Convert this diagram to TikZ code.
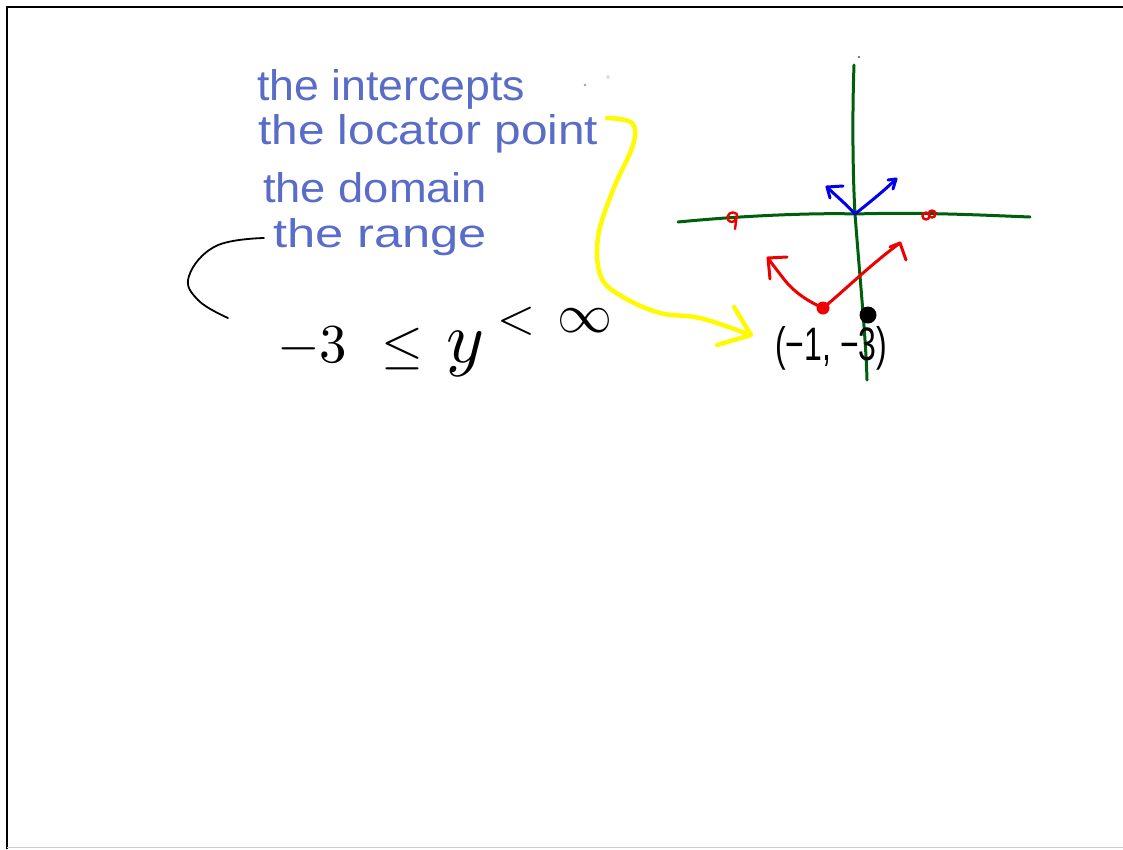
\documentclass[tikz,border=0pt]{standalone}
\usepackage{fontspec}
\setmainfont{Liberation Sans}
\usepackage{graphicx}
\definecolor{hblue}{RGB}{88,108,200}
\definecolor{hyellow}{RGB}{255,250,0}
\definecolor{hgreen}{RGB}{0,95,10}
\definecolor{hred}{RGB}{238,0,0}
\definecolor{pblue}{RGB}{0,0,235}
\begin{document}
\begin{tikzpicture}[x=1pt,y=-1pt,
  bluetext/.style={anchor=base west,inner sep=0pt,text=hblue},
  blacktext/.style={anchor=base west,inner sep=0pt,text=black},
  yellowpen/.style={draw=hyellow,line width=4.5pt,line cap=round,line join=round},
  greenpen/.style={draw=hgreen,line width=3pt,line cap=round},
  redpen/.style={draw=hred,line width=3pt,line cap=round,line join=round},
  bluepen/.style={draw=pblue,line width=3pt,line cap=round,line join=round},
  blackpen/.style={draw=black,line width=1.8pt,line cap=round}]
\useasboundingbox (0,0) rectangle (1123,849);
% frame
\draw[black,line width=2pt] (7,849) -- (7,7) -- (1123,7);
\draw[black!20,line width=1.5pt] (7,847.5) -- (1123,847.5);

% blue texts
\node[bluetext] (t1) at (257,100) {\resizebox{268pt}{31pt}{the intercepts}};
\node[bluetext] (t2) at (258,144) {\resizebox{340pt}{30pt}{the locator point}};
\node[bluetext] (t3) at (263,202) {\resizebox{224pt}{30pt}{the domain}};
\node[bluetext] (t4) at (273,247) {\resizebox{214pt}{29pt}{the range}};
\fill[hblue!70] (585,85) circle (1.3);
\fill[black!12] (608,77) circle (2);

% range inequality
\node[blacktext] (m1) at (277,362) {\resizebox{70pt}{!}{$-3$}};
\node[blacktext] (m2) at (381,362) {\resizebox{42pt}{!}{$\leq$}};
\node[blacktext] (m3) at (446,362) {\resizebox{38pt}{!}{$y$}};
\node[blacktext] (m4) at (497,333) {\resizebox{38pt}{!}{$<$}};
\node[blacktext] (m5) at (557,332) {\resizebox{55pt}{!}{$\infty$}};

% black curve from "the range" to the inequality
\coordinate (c1) at (264,238);
\coordinate (c2) at (228,318);
\draw[blackpen] plot[smooth,tension=0.7] coordinates {(c1) (216,246) (189,276) (198,300) (c2)};

% axes
\coordinate (ax1) at (678,222);
\coordinate (ax2) at (1030,217);
\coordinate (ay1) at (854,65);
\coordinate (ay2) at (867,380);
\coordinate (o) at (855,214);
\draw[greenpen] (ax1) .. controls (760,214) and (830,213) .. (o) .. controls (920,212) and (980,215) .. (ax2);
\draw[greenpen] (ay1) .. controls (852,120) and (853,180) .. (o) .. controls (860,280) and (866,340) .. (ay2);
\fill[black] (859,57) circle (0.9);

% blue arrows at the origin
\coordinate (bl) at (827,187);
\coordinate (br) at (896,179);
\draw[bluepen] (o) .. controls (845,203) and (835,195) .. (bl);
\draw[bluepen] (843,186) -- (bl) -- (830,198);
\draw[bluepen] (o) .. controls (870,202) and (885,190) .. (br);
\draw[bluepen] (888,180) -- (br) -- (893,189);

% red V
\coordinate (v) at (823,308);
\coordinate (rl) at (768,258);
\coordinate (rr) at (900,243);
\draw[redpen] (v) .. controls (805,300) and (792,290) .. (783,278) .. controls (777,270) and (772,264) .. (rl);
\draw[redpen] (787,257) -- (rl) -- (770,279);
\draw[redpen] (v) .. controls (845,290) and (870,265) .. (rr);
\draw[redpen] (890,247) -- (rr) -- (906,260);
\fill[hred] (v) circle (6.5);
% intercept marks
\draw[redpen,line width=2.4pt] (737,214) .. controls (732,210) and (726,214) .. (728,220) .. controls (731,224) and (737,222) .. (737,214) -- (735,229);
\draw[redpen,line width=2.4pt] (926,216) circle (3.5);
\draw[redpen,line width=2.4pt] (932,214) circle (3.5);

% locator point
\fill[black] (868,315) circle (8.5);
\node[blacktext] (lp) at (775,360) {\resizebox{112pt}{34pt}{(−1, −3)}};

% yellow connector from "the locator point" to the point label
\coordinate (ys) at (607,118);
\coordinate (ye) at (745,333);
\draw[yellowpen] plot[smooth,tension=0.6] coordinates {(ys) (632,123) (633,145) (613,190) (598,237) (601,277) (623,297) (660,313) (700,318) (ye)};
\draw[yellowpen] (734,307) -- (751,335) -- (717,345);
\end{tikzpicture}
\end{document}
